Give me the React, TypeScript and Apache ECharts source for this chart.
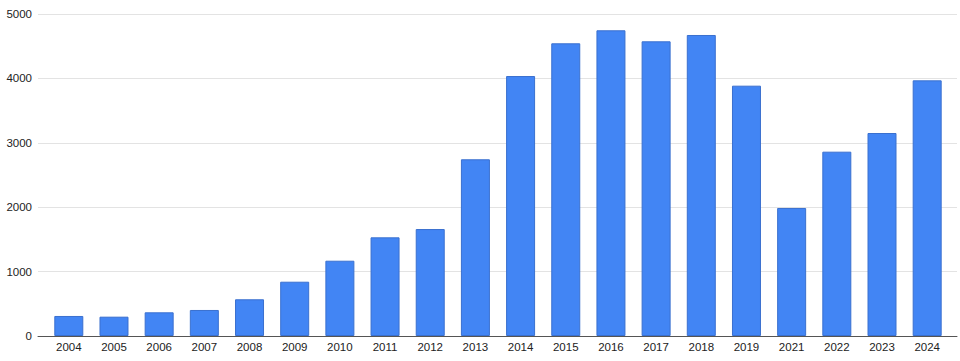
import React, { useEffect, useRef } from "react";
import * as echarts from "echarts";

const years = ["2004","2005","2006","2007","2008","2009","2010","2011","2012","2013","2014","2015","2016","2017","2018","2019","2021","2022","2023","2024"];
const counts = [311, 300, 368, 404, 570, 843, 1169, 1532, 1661, 2744, 4037, 4545, 4747, 4576, 4674, 3887, 1988, 2862, 3152, 3970];
const yTicks = { min: 0, max: 5000, interval: 1000 };

export default function App() {
  const ref = useRef<HTMLDivElement>(null);
  useEffect(() => {
    if (!ref.current) return;
    const chart = echarts.init(ref.current, null, { renderer: "svg" });
    const idx = years.map((_, i) => i);
    chart.setOption({
      animation: false,
      textStyle: { fontFamily: "Liberation Sans, Arial, sans-serif" },
      grid: { left: 38, right: 3, top: 14, bottom: 25, containLabel: false },
      xAxis: {
        type: "value",
        min: -0.682,
        max: 19.66,
        splitLine: { show: false },
        axisLine: { show: true, lineStyle: { color: "#555", width: 1 } },
        axisTick: { show: false },
        axisLabel: {
          customValues: idx,
          formatter: (v: number) => years[Math.round(v)] ?? "",
          color: "#222",
          fontSize: 11.5,
          margin: 5,
        },
      },
      yAxis: {
        type: "value",
        min: yTicks.min,
        max: yTicks.max,
        interval: yTicks.interval,
        axisLine: { show: false },
        axisTick: { show: false },
        axisLabel: { color: "#222", fontSize: 11.5, margin: 6, formatter: (v: number) => String(v) },
        splitLine: { lineStyle: { color: "#e3e3e3", width: 1 } },
      },
      series: [
        {
          type: "bar",
          data: counts.map((v, i) => [i, v]),
          barWidth: 29,
          itemStyle: { color: "#4285f4", borderColor: "#3a70cf", borderWidth: 1 },
        },
      ],
    });
    return () => chart.dispose();
  }, []);
  return <div ref={ref} style={{ width: 960, height: 361, position: "absolute", left: 0, top: 0, background: "#fff" }} />;
}
